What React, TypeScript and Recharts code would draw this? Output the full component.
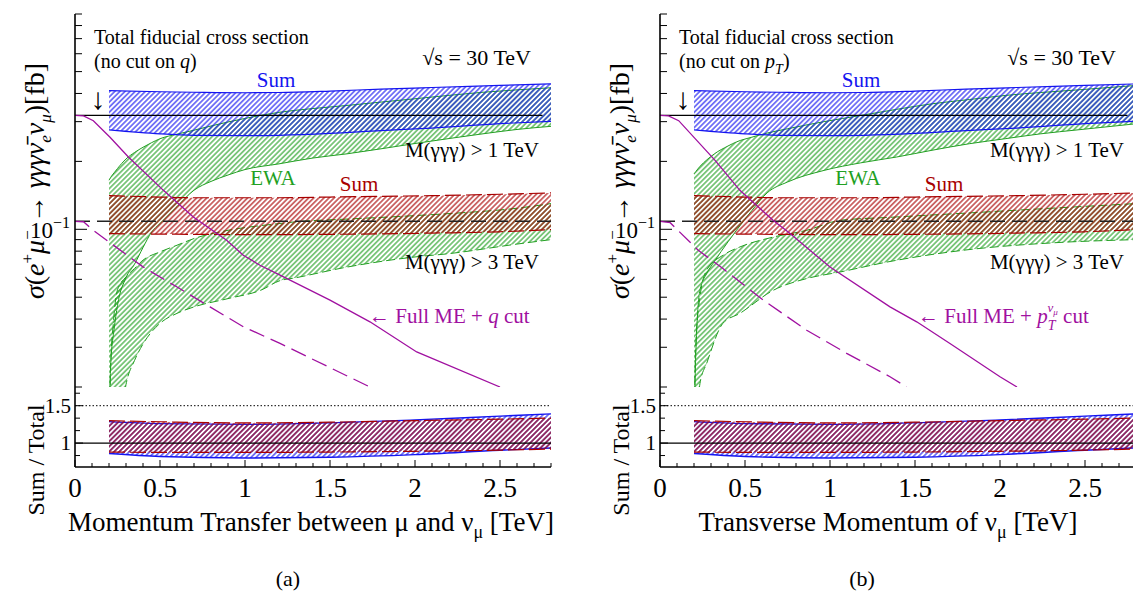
import React from "react";
import { ComposedChart, Area, Line, XAxis, YAxis, ReferenceLine } from "recharts";

const FONT = "'Liberation Serif', 'DejaVu Serif', serif";
const BLUE = "#1414f0";
const RED = "#a80000";
const GREEN = "#22a022";
const PURPLE = "#a010a0";

// axis ticks
const xTicks = [0, 0.1, 0.2, 0.3, 0.4, 0.5, 0.6, 0.7, 0.8, 0.9, 1, 1.1, 1.2, 1.3, 1.4, 1.5, 1.6, 1.7, 1.8, 1.9, 2, 2.1, 2.2, 2.3, 2.4, 2.5, 2.6, 2.7, 2.8];
const xMajor = [0, 0.5, 1, 1.5, 2, 2.5];
const xMajorLabels = ["0", "0.5", "1", "1.5", "2", "2.5"];
const yTicksMain = [0.02, 0.03, 0.04, 0.05, 0.06, 0.07, 0.08, 0.09, 0.1, 0.2, 0.3, 0.4, 0.5, 0.6, 0.7, 0.8, 0.9];
const yTicksRatio = [0.8333, 1, 1.1667, 1.3333, 1.5, 1.6667];
const yRatioMajor = [1, 1.5];
const yRatioLabels = ["1", "1.5"];

// total fiducial cross sections (fb)
const totalX = [0, 2.75];
const totalM1 = [0.32, 0.32];
const totalM3X = [0, 2.8];
const totalM3 = [0.1085, 0.1085];

// "Sum" bands, same in both panels
const sumX = [0.2, 0.5, 0.7, 1.0, 1.2, 1.5, 1.8, 2.1, 2.5, 2.8];
const sumM1Top = [0.412, 0.407, 0.405, 0.403, 0.404, 0.41, 0.418, 0.425, 0.434, 0.441];
const sumM1Bot = [0.276, 0.265, 0.261, 0.26, 0.261, 0.266, 0.274, 0.281, 0.294, 0.301];
const sumM3Top = [0.141, 0.139, 0.138, 0.138, 0.138, 0.139, 0.14, 0.141, 0.143, 0.145];
const sumM3Bot = [0.0957, 0.0952, 0.095, 0.0947, 0.0947, 0.095, 0.0955, 0.0962, 0.0975, 0.0997];

// Sum / Total ratio bands
const ratioX = [0.2, 0.5, 1.0, 1.5, 2.0, 2.5, 2.8];
const ratioM1Top = [1.287, 1.26, 1.25, 1.27, 1.31, 1.36, 1.39];
const ratioM1Bot = [0.86, 0.82, 0.8, 0.81, 0.845, 0.905, 0.935];
const ratioM3Top = [1.3, 1.285, 1.27, 1.28, 1.3, 1.32, 1.335];
const ratioM3Bot = [0.88, 0.875, 0.875, 0.88, 0.89, 0.905, 0.92];

// panel (a): EWA bands
const ewaM1XA = [0.2, 0.21, 0.23, 0.25, 0.3, 0.35, 0.4, 0.45, 0.5, 0.6, 0.7, 0.8, 0.9, 1.0, 1.2, 1.4, 1.6, 2.0, 2.4, 2.6, 2.8];
const ewaM1TopA = [0.165, 0.17, 0.178, 0.186, 0.205, 0.219, 0.231, 0.242, 0.252, 0.264, 0.275, 0.287, 0.299, 0.31, 0.33, 0.343, 0.354, 0.379, 0.405, 0.415, 0.424];
const ewaM1BotA = [0.012, 0.025, 0.036, 0.046, 0.061, 0.07, 0.083, 0.097, 0.106, 0.126, 0.149, 0.163, 0.174, 0.184, 0.195, 0.207, 0.216, 0.24, 0.265, 0.277, 0.286];
const ewaM3XA = [0.2, 0.21, 0.225, 0.25, 0.3, 0.35, 0.4, 0.5, 0.6, 0.7, 0.9, 1.1, 1.2, 1.3, 1.6, 2.0, 2.2, 2.6, 2.8];
const ewaM3TopA = [0.012, 0.025, 0.038, 0.054, 0.0615, 0.067, 0.073, 0.0794, 0.085, 0.091, 0.099, 0.104, 0.106, 0.108, 0.111, 0.115, 0.1174, 0.124, 0.13];
const ewaM3BotA = [0.006, 0.007, 0.008, 0.011, 0.0205, 0.0262, 0.031, 0.0383, 0.0424, 0.0453, 0.0493, 0.054, 0.059, 0.061, 0.068, 0.0754, 0.078, 0.086, 0.09];

// panel (a): full ME + q cut
const fullM1XA = [0, 0.05, 0.108, 0.206, 0.314, 0.52, 0.696, 0.892, 0.99, 1.088, 1.206, 1.5, 1.735, 2.01, 2.5];
const fullM1A = [0.32, 0.318, 0.303, 0.256, 0.209, 0.1488, 0.1133, 0.0894, 0.0767, 0.0693, 0.0626, 0.0485, 0.0389, 0.0286, 0.02];
const fullM3XA = [0, 0.05, 0.108, 0.2, 0.402, 0.598, 0.794, 0.99, 1.206, 1.735];
const fullM3A = [0.1085, 0.108, 0.099, 0.0879, 0.068, 0.0556, 0.0453, 0.037, 0.0312, 0.02];

// panel (b): EWA bands
const ewaM1XB = [0.2, 0.21, 0.235, 0.275, 0.32, 0.4, 0.45, 0.54, 0.63, 0.75, 0.965, 1.18, 1.39, 1.6, 1.82, 2.03, 2.24, 2.46, 2.8];
const ewaM1TopB = [0.176, 0.18, 0.19, 0.203, 0.216, 0.234, 0.244, 0.256, 0.267, 0.279, 0.3, 0.3195, 0.34, 0.36, 0.376, 0.392, 0.404, 0.415, 0.434];
const ewaM1BotB = [0.012, 0.027, 0.0537, 0.0637, 0.072, 0.088, 0.099, 0.121, 0.145, 0.162, 0.1824, 0.197, 0.209, 0.224, 0.2395, 0.252, 0.265, 0.276, 0.2936];
const ewaM3XB = [0.2, 0.21, 0.235, 0.275, 0.37, 0.47, 0.667, 0.863, 1.06, 1.353, 1.8, 2.3, 2.8];
const ewaM3TopB = [0.012, 0.03, 0.05, 0.066, 0.0767, 0.0835, 0.0924, 0.099, 0.1096, 0.113, 0.118, 0.124, 0.13];
const ewaM3BotB = [0.006, 0.01, 0.0207, 0.0255, 0.0383, 0.0424, 0.0537, 0.0605, 0.0647, 0.072, 0.081, 0.087, 0.09];

// panel (b): full ME + pT cut
const fullM1XB = [0, 0.05, 0.11, 0.324, 0.47, 0.665, 0.765, 1.0, 1.353, 1.51, 1.71, 2.0, 2.1];
const fullM1B = [0.32, 0.318, 0.303, 0.202, 0.1488, 0.1096, 0.0957, 0.068, 0.0453, 0.0389, 0.031, 0.0222, 0.02];
const fullM3XB = [0, 0.06, 0.225, 0.37, 0.608, 0.863, 1.098, 1.353, 1.45];
const fullM3B = [0.1085, 0.107, 0.0807, 0.067, 0.0485, 0.0357, 0.0282, 0.0222, 0.02];

const pts = (xs: number[], ys: number[]) => xs.map((x, i) => ({ x, y: ys[i] }));
const band = (xs: number[], lo: number[], hi: number[]) => xs.map((x, i) => ({ x, r: [lo[i], hi[i]] }));

const findIdx = (arr: number[], v: number) => arr.findIndex((m) => Math.abs(m - v) < 1e-6);

function XTick({ x, y, payload, dir, big, small, withLabel }: any) {
  const i = findIdx(xMajor, payload.value);
  const len = i >= 0 ? big : small;
  return (
    <g>
      <line x1={x} x2={x} y1={y} y2={y + dir * len} stroke="#000" strokeWidth={1} />
      {withLabel && i >= 0 && (
        <text x={x} y={y + 30} textAnchor="middle" fontSize={27} fontFamily={FONT} fill="#000">
          {xMajorLabels[i]}
        </text>
      )}
    </g>
  );
}

function YTickMain({ x, y, payload, dir, withLabel }: any) {
  const major = Math.abs(payload.value - 0.1) < 1e-9;
  const len = major ? 12 : 7;
  return (
    <g>
      <line x1={x} x2={x + dir * len} y1={y} y2={y} stroke="#000" strokeWidth={1} />
      {withLabel && major && (
        <text x={x - 5} y={y + 9} textAnchor="end" fontSize={23} fontFamily={FONT} fill="#000">
          10<tspan dy={-10} fontSize={16}>−1</tspan>
        </text>
      )}
    </g>
  );
}

function YTickRatio({ x, y, payload, dir, withLabel }: any) {
  const i = findIdx(yRatioMajor, payload.value);
  const len = i >= 0 ? 8 : 5;
  return (
    <g>
      <line x1={x} x2={x + dir * len} y1={y} y2={y} stroke="#000" strokeWidth={1} />
      {withLabel && i >= 0 && (
        <text x={x - 4} y={y + 7} textAnchor="end" fontSize={21} fontFamily={FONT} fill="#000">
          {yRatioLabels[i]}
        </text>
      )}
    </g>
  );
}

const frame = { stroke: "#000", strokeWidth: 1.6 };

type PanelProps = {
  left: number;
  ewaM1: { x: number; r: number[] }[];
  ewaM3: { x: number; r: number[] }[];
  fullM1: { x: number; y: number }[];
  fullM3: { x: number; y: number }[];
};

function Panel({ left, ewaM1, ewaM3, fullM1, fullM3 }: PanelProps) {
  const sumM1 = band(sumX, sumM1Bot, sumM1Top);
  const sumM3 = band(sumX, sumM3Bot, sumM3Top);
  const rM1 = band(ratioX, ratioM1Bot, ratioM1Top);
  const rM3 = band(ratioX, ratioM3Bot, ratioM3Top);
  return (
    <>
      <div style={{ position: "absolute", left, top: 0 }}>
        <ComposedChart width={553} height={388} margin={{ top: 14, right: 2, bottom: 1, left: 0 }}>
          <XAxis dataKey="x" type="number" domain={[0, 2.8]} ticks={xTicks} interval={0} allowDataOverflow
            height={0} tickSize={0} tickMargin={0} tickLine={false} axisLine={frame}
            tick={<XTick dir={-1} big={9} small={5} />} />
          <XAxis xAxisId="top" orientation="top" dataKey="x" type="number" domain={[0, 2.8]} ticks={xTicks} interval={0}
            allowDataOverflow height={0} tickSize={0} tickMargin={0} tickLine={false} axisLine={frame}
            tick={<XTick dir={1} big={9} small={5} />} />
          <YAxis type="number" scale="log" domain={[0.02, 0.9]} ticks={yTicksMain} interval={0} allowDataOverflow
            width={75} tickSize={0} tickMargin={0} tickLine={false} axisLine={frame}
            tick={<YTickMain dir={1} withLabel />} />
          <YAxis yAxisId="right" orientation="right" type="number" scale="log" domain={[0.02, 0.9]} ticks={yTicksMain}
            interval={0} allowDataOverflow width={0} tickSize={0} tickMargin={0} tickLine={false} axisLine={frame}
            tick={<YTickMain dir={-1} />} />

          <Area data={ewaM1} dataKey="r" type="monotone" stroke={GREEN} strokeWidth={1} fill="url(#hGreen)"
            fillOpacity={1} isAnimationActive={false} dot={false} activeDot={false} />
          <Area data={ewaM3} dataKey="r" type="monotone" stroke={GREEN} strokeWidth={1} strokeDasharray="9 4"
            fill="url(#hGreen)" fillOpacity={1} isAnimationActive={false} dot={false} activeDot={false} />
          <Area data={sumM1} dataKey="r" type="monotone" stroke={BLUE} strokeWidth={1.2} fill="url(#hBlue)"
            fillOpacity={1} isAnimationActive={false} dot={false} activeDot={false} />
          <Area data={sumM3} dataKey="r" type="monotone" stroke={RED} strokeWidth={1.2} strokeDasharray="16 5"
            fill="url(#hRed)" fillOpacity={1} isAnimationActive={false} dot={false} activeDot={false} />

          <Line data={pts(totalX, totalM1)} dataKey="y" stroke="#000" strokeWidth={1.3} dot={false} activeDot={false}
            isAnimationActive={false} />
          <Line data={pts(totalM3X, totalM3)} dataKey="y" stroke="#222" strokeWidth={1.6} strokeDasharray="15 7"
            dot={false} activeDot={false} isAnimationActive={false} />
          <Line data={fullM1} dataKey="y" stroke={PURPLE} strokeWidth={1.3} dot={false} activeDot={false}
            isAnimationActive={false} />
          <Line data={fullM3} dataKey="y" stroke={PURPLE} strokeWidth={1.3} strokeDasharray="16 7" dot={false}
            activeDot={false} isAnimationActive={false} />
        </ComposedChart>
      </div>
      <div style={{ position: "absolute", left, top: 380 }}>
        <ComposedChart width={553} height={127} margin={{ top: 7, right: 2, bottom: 0, left: 0 }}>
          <XAxis dataKey="x" type="number" domain={[0, 2.8]} ticks={xTicks} interval={0} allowDataOverflow
            height={40} tickSize={0} tickMargin={0} tickLine={false} axisLine={frame}
            tick={<XTick dir={-1} big={7} small={4} withLabel />} />
          <XAxis xAxisId="top" orientation="top" dataKey="x" type="number" domain={[0, 2.8]} ticks={xTicks} interval={0}
            allowDataOverflow height={0} tickSize={0} tickMargin={0} tickLine={false} axisLine={frame}
            tick={<XTick dir={1} big={7} small={4} />} />
          <YAxis type="number" domain={[0.68, 1.75]} ticks={yTicksRatio} interval={0} allowDataOverflow width={75}
            tickSize={0} tickMargin={0} tickLine={false} axisLine={frame} tick={<YTickRatio dir={1} withLabel />} />
          <YAxis yAxisId="right" orientation="right" type="number" domain={[0.68, 1.75]} ticks={yTicksRatio}
            interval={0} allowDataOverflow width={0} tickSize={0} tickMargin={0} tickLine={false} axisLine={frame}
            tick={<YTickRatio dir={-1} />} />

          <ReferenceLine y={1.5} stroke="#000" strokeWidth={1} strokeDasharray="1.5 2" />
          <Area data={rM1} dataKey="r" type="monotone" stroke={BLUE} strokeWidth={1.4} fill="url(#hBlue)"
            fillOpacity={1} isAnimationActive={false} dot={false} activeDot={false} />
          <Area data={rM3} dataKey="r" type="monotone" stroke={RED} strokeWidth={1.2} strokeDasharray="16 5"
            fill="url(#hRed)" fillOpacity={1} isAnimationActive={false} dot={false} activeDot={false} />
          <ReferenceLine y={1} stroke="#000" strokeWidth={1.2} />
        </ComposedChart>
      </div>
    </>
  );
}

function Texts({ dx, b }: { dx: number; b: boolean }) {
  const fs = 21;
  return (
    <g fontFamily={FONT}>
      <text x={44 + dx} y={181} transform={`rotate(-90 ${44 + dx} 181)`} textAnchor="middle" fontSize={28}>
        <tspan fontStyle="italic">σ</tspan>(<tspan fontStyle="italic">e</tspan>
        <tspan dy={-11} fontSize={17}>+</tspan>
        <tspan dy={11} fontStyle="italic">μ</tspan>
        <tspan dy={-11} fontSize={17}>−</tspan>
        <tspan dy={11}> → </tspan>
        <tspan fontStyle="italic">γγγν̄</tspan>
        <tspan dy={7} fontSize={17} fontStyle="italic">e</tspan>
        <tspan dy={-7} fontStyle="italic">ν</tspan>
        <tspan dy={7} fontSize={17} fontStyle="italic">μ</tspan>
        <tspan dy={-7}>)[fb]</tspan>
      </text>
      <text x={44 + dx} y={460} transform={`rotate(-90 ${44 + dx} 460)`} textAnchor="middle" fontSize={24}>
        Sum / Total
      </text>
      <text x={94 + dx} y={44} fontSize={20}>Total fiducial cross section</text>
      {b ? (
        <text x={94 + dx} y={68} fontSize={20}>
          (no cut on <tspan fontStyle="italic">p</tspan>
          <tspan dy={6} fontSize={14} fontStyle="italic">T</tspan>
          <tspan dy={-6}>)</tspan>
        </text>
      ) : (
        <text x={94 + dx} y={68} fontSize={20}>
          (no cut on <tspan fontStyle="italic">q</tspan>)
        </text>
      )}
      <text x={531 + dx} y={65} textAnchor="end" fontSize={22}>√s = 30 TeV</text>
      <text x={98 + dx} y={109} textAnchor="middle" fontSize={30}>↓</text>
      <text x={276 + dx} y={87} textAnchor="middle" fontSize={fs} fill={BLUE}>Sum</text>
      <text x={539 + dx} y={157} textAnchor="end" fontSize={fs}>M(γγγ) &gt; 1 TeV</text>
      <text x={273 + dx} y={185} textAnchor="middle" fontSize={fs} fill={GREEN}>EWA</text>
      <text x={359 + dx} y={191} textAnchor="middle" fontSize={fs} fill={RED}>Sum</text>
      <text x={539 + dx} y={269} textAnchor="end" fontSize={fs}>M(γγγ) &gt; 3 TeV</text>
      {b ? (
        <text x={333 + dx} y={323} fontSize={fs} fill={PURPLE}>
          ← Full ME + <tspan fontStyle="italic">p</tspan>
          <tspan dy={7} fontSize={14} fontStyle="italic">T</tspan>
          <tspan dx={-8} dy={-18} fontSize={13} fontStyle="italic">ν</tspan>
          <tspan dy={3} fontSize={9} fontStyle="italic">μ</tspan>
          <tspan dy={8}> cut</tspan>
        </text>
      ) : (
        <text x={369 + dx} y={323} fontSize={fs} fill={PURPLE}>
          ← Full ME + <tspan fontStyle="italic">q</tspan> cut
        </text>
      )}
      {b ? (
        <text x={303 + dx} y={531} textAnchor="middle" fontSize={27}>
          Transverse Momentum of ν<tspan dy={7} fontSize={18}>μ</tspan>
          <tspan dy={-7}> [TeV]</tspan>
        </text>
      ) : (
        <text x={311 + dx} y={531} textAnchor="middle" fontSize={27}>
          Momentum Transfer between μ and ν<tspan dy={7} fontSize={18}>μ</tspan>
          <tspan dy={-7}> [TeV]</tspan>
        </text>
      )}
      <text x={(b ? 277 : 288) + dx} y={586} textAnchor="middle" fontSize={22}>{b ? "(b)" : "(a)"}</text>
    </g>
  );
}

function Hatch({ id, color }: { id: string; color: string }) {
  return (
    <pattern id={id} width={3.6} height={3.6} patternUnits="userSpaceOnUse" patternTransform="rotate(45)">
      <line x1={1.8} y1={0} x2={1.8} y2={3.6} stroke={color} strokeWidth={1.1} />
    </pattern>
  );
}

export default function App() {
  return (
    <div style={{ position: "fixed", left: 0, top: 0, width: 1133, height: 592, overflow: "hidden", background: "#fff", fontFamily: FONT }}>
      <svg width={0} height={0} style={{ position: "absolute" }}>
        <defs>
          <Hatch id="hBlue" color={BLUE} />
          <Hatch id="hRed" color={RED} />
          <Hatch id="hGreen" color={GREEN} />
        </defs>
      </svg>
      <Panel left={0} ewaM1={band(ewaM1XA, ewaM1BotA, ewaM1TopA)} ewaM3={band(ewaM3XA, ewaM3BotA, ewaM3TopA)}
        fullM1={pts(fullM1XA, fullM1A)} fullM3={pts(fullM3XA, fullM3A)} />
      <Panel left={585} ewaM1={band(ewaM1XB, ewaM1BotB, ewaM1TopB)} ewaM3={band(ewaM3XB, ewaM3BotB, ewaM3TopB)}
        fullM1={pts(fullM1XB, fullM1B)} fullM3={pts(fullM3XB, fullM3B)} />
      <svg width={1133} height={592} style={{ position: "absolute", left: 0, top: 0, pointerEvents: "none" }}>
        <Texts dx={0} b={false} />
        <Texts dx={585} b={true} />
      </svg>
    </div>
  );
}
